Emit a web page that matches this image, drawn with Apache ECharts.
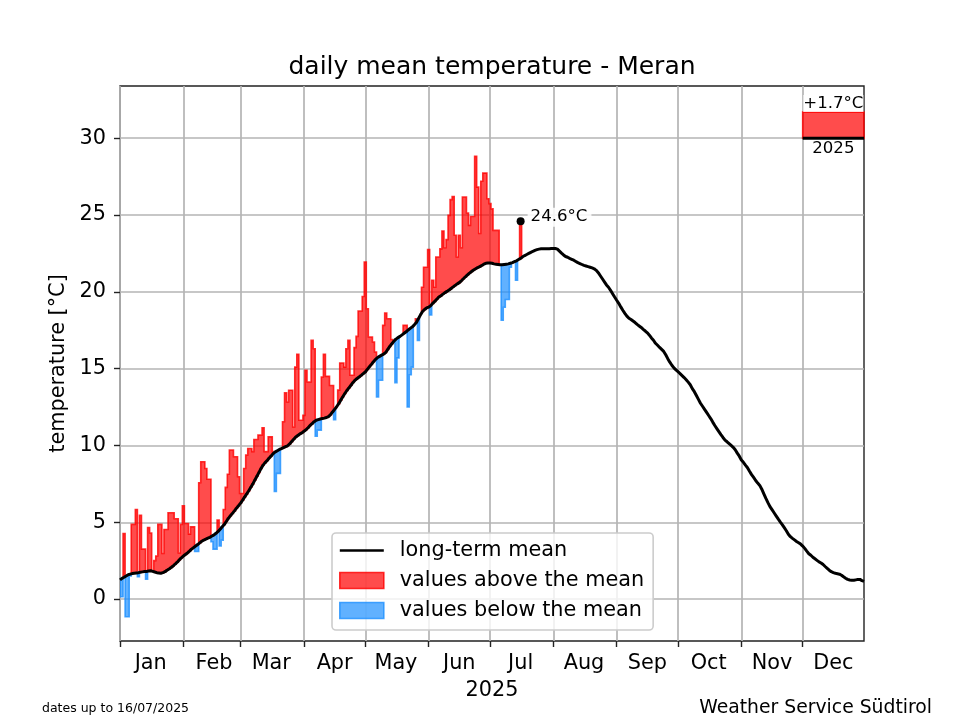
<!DOCTYPE html>
<html><head><meta charset="utf-8">
<style>html,body{margin:0;padding:0;background:#fff}#c{width:960px;height:720px}</style>
<script src="https://cdn.jsdelivr.net/npm/echarts@6/dist/echarts.min.js"></script>
</head><body><div id="c"></div>
<script>
const monthLabels=['Jan','Feb','Mar','Apr','May','Jun','Jul','Aug','Sep','Oct','Nov','Dec'];
const monthStarts=[0,31,59,90,120,151,181,212,243,273,304,334];
const monthMids=[15,46,74,105,135,166,196,227,258,288,319,349];
const yTicks=[0,5,10,15,20,25,30];
const longTermMean=[
1.25,1.35,1.42,1.5,1.58,1.62,1.66,1.68,1.7,1.72,
1.75,1.77,1.79,1.8,1.82,1.84,1.8,1.76,1.72,1.7,
1.68,1.72,1.78,1.88,1.96,2.05,2.15,2.28,2.4,2.55,
2.68,2.8,2.9,3.0,3.12,3.25,3.35,3.45,3.55,3.66,
3.76,3.84,3.9,3.96,4.02,4.1,4.18,4.28,4.4,4.55,
4.7,4.85,5.05,5.25,5.42,5.58,5.74,5.92,6.08,6.25,
6.44,6.65,6.85,7.05,7.28,7.5,7.75,8.0,8.25,8.5,
8.72,8.88,9.02,9.18,9.32,9.48,9.58,9.66,9.74,9.8,
9.86,9.92,9.98,10.1,10.25,10.4,10.55,10.65,10.75,10.82,
10.92,11.02,11.15,11.3,11.42,11.55,11.64,11.68,11.72,11.75,
11.78,11.82,11.88,12.0,12.18,12.35,12.52,12.72,12.95,13.17,
13.38,13.58,13.75,13.92,14.1,14.25,14.36,14.46,14.56,14.67,
14.78,14.95,15.12,15.28,15.45,15.6,15.72,15.8,15.88,15.95,
16.05,16.25,16.45,16.62,16.78,16.92,17.02,17.1,17.2,17.3,
17.4,17.52,17.62,17.72,17.85,18.0,18.25,18.5,18.72,18.85,
18.95,19.0,19.1,19.25,19.38,19.52,19.66,19.75,19.85,19.95,
20.03,20.12,20.22,20.32,20.42,20.52,20.6,20.72,20.85,20.98,
21.1,21.22,21.32,21.42,21.5,21.58,21.64,21.72,21.8,21.86,
21.88,21.88,21.86,21.82,21.8,21.78,21.76,21.76,21.78,21.8,
21.82,21.86,21.9,21.96,22.02,22.1,22.18,22.28,22.36,22.43,
22.5,22.57,22.64,22.7,22.75,22.78,22.8,22.8,22.8,22.8,
22.8,22.82,22.82,22.82,22.78,22.65,22.52,22.4,22.3,22.25,
22.18,22.12,22.06,21.98,21.9,21.84,21.78,21.72,21.68,21.64,
21.6,21.56,21.5,21.4,21.25,21.05,20.85,20.65,20.45,20.3,
20.1,19.88,19.66,19.45,19.25,19.02,18.8,18.6,18.42,18.28,
18.2,18.1,18.0,17.88,17.78,17.68,17.56,17.45,17.33,17.18,
17.0,16.85,16.65,16.52,16.38,16.25,16.12,15.9,15.65,15.42,
15.22,15.05,14.92,14.8,14.68,14.55,14.42,14.28,14.12,13.95,
13.7,13.5,13.25,13.0,12.75,12.55,12.35,12.15,11.95,11.75,
11.52,11.3,11.1,10.9,10.7,10.52,10.35,10.24,10.12,10.0,
9.88,9.72,9.5,9.3,9.05,8.9,8.72,8.55,8.32,8.1,
7.92,7.72,7.55,7.4,7.15,6.85,6.55,6.28,6.02,5.82,
5.62,5.42,5.22,5.03,4.85,4.65,4.45,4.22,4.06,3.95,
3.85,3.75,3.67,3.58,3.45,3.3,3.12,2.95,2.85,2.72,
2.62,2.52,2.42,2.35,2.25,2.12,2.0,1.88,1.78,1.72,
1.68,1.65,1.62,1.55,1.45,1.36,1.28,1.24,1.22,1.22,
1.25,1.28,1.28,1.2,1.15];
const dailyValues=[
0.15,0.15,4.27,-1.15,-1.15,1.5,4.86,4.86,5.83,1.45,
5.46,3.25,3.25,1.3,4.66,4.3,1.8,2.5,2.8,4.86,
4.86,2.97,4.53,4.53,5.62,5.62,5.62,5.23,5.23,3.0,
4.86,6.07,4.92,4.92,4.23,4.7,4.7,3.1,3.1,7.57,
8.94,8.94,8.5,7.8,7.8,3.73,3.25,3.25,5.14,3.45,
3.84,5.83,7.27,8.13,9.7,9.7,9.26,9.26,7.96,6.87,
6.87,8.5,9.37,9.8,9.8,9.6,10.39,10.39,10.67,10.67,
11.15,9.6,9.6,10.56,10.56,9.6,7.0,8.18,8.18,9.8,
11.54,13.42,12.83,13.59,13.59,11.2,15.1,15.93,11.64,11.64,
11.96,14.9,14.13,14.13,16.84,16.3,10.6,11.0,11.0,14.46,
15.93,14.5,14.5,13.9,13.9,11.68,12.52,13.6,15.37,15.37,
15.1,16.3,16.84,14.57,14.57,16.37,17.1,18.75,18.75,19.7,
21.94,18.9,17.06,17.06,16.73,16.08,13.15,14.24,14.24,17.82,
18.62,18.25,18.25,16.9,16.78,14.09,15.7,17.1,17.2,17.82,
17.82,12.5,14.6,15.1,17.85,18.25,16.84,18.5,20.3,21.6,
21.6,22.75,18.5,20.75,20.3,22.27,22.27,22.8,23.96,22.87,
23.4,24.98,26,26.2,23.68,22.27,23.68,22.87,26.17,26.17,
25.13,24.33,24.9,24.9,28.82,26.82,23.8,27.2,27.73,27.73,
26.06,25.74,25.4,24,24,24,21.76,18.15,19.0,19.5,
19.5,21.6,21.9,21.96,20.75,22.1,24.6];
const lastValue=[196,24.6];
const anomalySpan=[334,364];
const anomalyBase=30;
const anomalyValue=1.7;

const FONT='DejaVu Sans';
const RED_FILL='rgba(255,0,0,0.7)',RED_EDGE='rgba(255,0,0,0.8)';
const BLUE_FILL='rgba(30,144,255,0.7)',BLUE_EDGE='rgba(30,144,255,0.8)';

function runs(test){
  const out=[];let s=-1;
  for(let i=0;i<=dailyValues.length;i++){
    const ok=i<dailyValues.length&&test(dailyValues[i],longTermMean[i]);
    if(ok&&s<0)s=i;
    if(!ok&&s>=0){out.push([s,i-1]);s=-1;}
  }
  return out;
}
function renderRun(fill,edge){
  return function(params,api){
    const a=api.value(0),b=api.value(1),pts=[];
    for(let i=a;i<=b;i++){
      const l=Math.max(i-0.5,0),r=i+0.5;
      pts.push(api.coord([l,dailyValues[i]]),api.coord([r,dailyValues[i]]));
    }
    for(let i=b;i>=a;i--){
      const l=Math.max(i-0.5,0),r=i+0.5;
      pts.push(api.coord([r,longTermMean[i]]),api.coord([l,longTermMean[i]]));
    }
    return {type:'polygon',shape:{points:pts},style:{fill:fill,stroke:edge,lineWidth:1.6}};
  };
}
const chart=echarts.init(document.getElementById('c'),null,{renderer:'canvas'});
chart.setOption({
  animation:false,
  backgroundColor:'#fff',
  textStyle:{fontFamily:FONT,color:'#000'},
  title:[
    {text:'daily mean temperature - Meran',left:492,top:55,padding:0,textAlign:'center',textStyle:{fontFamily:FONT,fontSize:25,fontWeight:'normal',color:'#000'}},
    {text:'dates up to 16/07/2025',left:42,top:702,padding:0,textStyle:{fontFamily:FONT,fontSize:12.5,fontWeight:'normal',color:'#000'}},
    {text:'Weather Service Südtirol',left:932,top:699,padding:0,textAlign:'right',textStyle:{fontFamily:FONT,fontSize:18.8,fontWeight:'normal',color:'#000'}}
  ],
  grid:{left:120,right:96,top:86,bottom:79,show:true,borderColor:'#222',borderWidth:1.4,backgroundColor:'transparent'},
  xAxis:{type:'value',min:0,max:364,
    name:'2025',nameLocation:'middle',nameGap:39,nameTextStyle:{fontFamily:FONT,fontSize:20.8,color:'#000'},
    axisLine:{show:false,onZero:false},
    axisTick:{show:true,length:6,lineStyle:{color:'#222',width:1.4},customValues:monthStarts},
    axisLabel:{fontFamily:FONT,fontSize:20.8,color:'#000',margin:12,customValues:monthMids,hideOverlap:false,
      formatter:v=>monthLabels[monthMids.indexOf(v)]},
    splitLine:{show:true,lineStyle:{color:'#b4b4b4',width:1.7}}
  },
  yAxis:{type:'value',min:-2.73,max:33.4,
    name:'temperature [°C]',nameLocation:'middle',nameGap:47,nameTextStyle:{fontFamily:FONT,fontSize:20.8,color:'#000'},
    axisLine:{show:false,onZero:false},
    axisTick:{show:true,length:6,lineStyle:{color:'#222',width:1.4},customValues:yTicks},
    axisLabel:{fontFamily:FONT,fontSize:20.8,color:'#000',margin:14,customValues:yTicks,padding:[5,0,0,0]},
    splitLine:{show:true,lineStyle:{color:'#b4b4b4',width:1.7}}
  },
  legend:{orient:'vertical',left:332,top:533,
    padding:[7,9,9,7],itemGap:9,itemWidth:44,itemHeight:16,
    backgroundColor:'rgba(255,255,255,0.8)',borderColor:'#ccc',borderWidth:1.6,borderRadius:4,
    textStyle:{fontFamily:FONT,fontSize:20.8,color:'#000',padding:[0,0,0,11]},
    data:[
      {name:'long-term mean',icon:'path://M0,0L0,0M44,16L44,16M0,6.7H44V9.3H0Z',itemStyle:{color:'#000',borderWidth:0}},
      {name:'values above the mean',icon:'rect',itemStyle:{color:RED_FILL,borderColor:RED_EDGE,borderWidth:1.6}},
      {name:'values below the mean',icon:'rect',itemStyle:{color:BLUE_FILL,borderColor:BLUE_EDGE,borderWidth:1.6}}
    ]},
  series:[
    {name:'values above the mean',type:'custom',z:3,silent:true,clip:true,
     renderItem:renderRun(RED_FILL,RED_EDGE),data:runs((v,m)=>v>m),itemStyle:{color:RED_FILL}},
    {name:'values below the mean',type:'custom',z:3,silent:true,clip:true,
     renderItem:renderRun(BLUE_FILL,BLUE_EDGE),data:runs((v,m)=>v<m),itemStyle:{color:BLUE_FILL}},
    {name:'long-term mean',type:'line',z:5,silent:true,showSymbol:false,symbol:'none',
     data:longTermMean.map((v,i)=>[i,v]),lineStyle:{color:'#000',width:3},itemStyle:{color:'#000'}},
    {name:'latest',type:'scatter',z:6,silent:true,symbolSize:8,itemStyle:{color:'#000',opacity:1},
     data:[lastValue],
     label:{show:true,position:'right',distance:7,offset:[-4,-4],formatter:p=>p.value[1].toFixed(1)+'°C',fontFamily:FONT,fontSize:16.6,color:'#000',opacity:1,
       backgroundColor:'rgba(255,255,255,0.85)',padding:[1,4,1,3]}},
    {name:'anomaly',type:'custom',z:4,silent:true,clip:false,
     data:[[anomalySpan[0],anomalySpan[1],anomalyBase,anomalyValue]],
     renderItem:(params,api)=>{
       const x0=api.value(0),x1=api.value(1),b=api.value(2),d=api.value(3);
       const p0=api.coord([x0,b]),p1=api.coord([x1,b]),q1=api.coord([x1,b+d]),q0=api.coord([x0,b+d]);
       const cx=(p0[0]+p1[0])/2;
       return {type:'group',children:[
         {type:'polygon',shape:{points:[p0,p1,q1,q0]},style:{fill:RED_FILL,stroke:RED_EDGE,lineWidth:1.6}},
         {type:'line',shape:{x1:p0[0],y1:p0[1],x2:p1[0],y2:p1[1]},style:{stroke:'#000',lineWidth:3}},
         {type:'text',style:{text:'+'+d.toFixed(1)+'°C',x:cx,y:q0[1],align:'center',verticalAlign:'bottom',font:'16.6px "DejaVu Sans"',fill:'#000',backgroundColor:'rgba(255,255,255,0.8)'}},
         {type:'text',style:{text:'2025',x:cx,y:p0[1]+2,align:'center',verticalAlign:'top',font:'16.6px "DejaVu Sans"',fill:'#000'}}
       ]};
     }}
  ]
});
</script></body></html>
